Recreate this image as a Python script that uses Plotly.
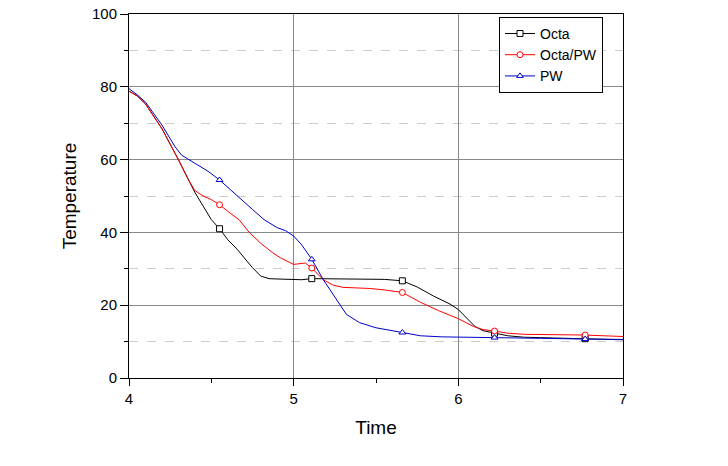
import plotly.graph_objects as go

# ---- data ----
octa_x = [4.00, 4.05, 4.10, 4.20, 4.30, 4.40, 4.50, 4.55, 4.60, 4.66, 4.70, 4.75, 4.80, 4.85, 4.90,
          5.00, 5.05, 5.11, 5.20, 5.40, 5.55, 5.66, 5.75, 5.85, 5.95, 6.00, 6.05, 6.10, 6.15, 6.22,
          6.30, 6.40, 6.60, 6.77, 7.00]
octa_y = [78.8, 77.5, 75.3, 68.5, 60.0, 51.0, 43.5, 41.0, 38.0, 35.2, 33.0, 30.3, 28.0, 27.3, 27.2,
          27.2, 27.0, 27.3, 27.3, 27.2, 27.1, 26.7, 25.0, 22.5, 20.3, 18.8, 16.5, 14.2, 13.0, 12.3,
          11.6, 11.2, 10.9, 10.8, 10.5]

opw_x = [4.00, 4.05, 4.10, 4.20, 4.30, 4.36, 4.40, 4.45, 4.50, 4.55, 4.60, 4.67, 4.73, 4.80, 4.87,
         4.92, 5.00, 5.07, 5.11, 5.18, 5.24, 5.30, 5.46, 5.55, 5.66, 5.77, 5.88, 6.00, 6.09, 6.15,
         6.22, 6.30, 6.40, 6.60, 6.77, 7.00]
opw_y = [78.8, 77.5, 75.3, 68.5, 60.0, 54.5, 51.5, 50.0, 49.0, 47.6, 45.8, 43.4, 40.0, 37.0, 34.5,
         33.0, 31.2, 31.6, 30.2, 27.0, 25.5, 24.9, 24.6, 24.2, 23.5, 20.8, 18.5, 16.3, 14.2, 13.3,
         12.9, 12.3, 12.0, 11.9, 11.8, 11.4]

pw_x = [4.00, 4.05, 4.10, 4.20, 4.28, 4.32, 4.40, 4.48, 4.55, 4.62, 4.68, 4.75, 4.82, 4.90, 4.95,
        5.00, 5.05, 5.11, 5.18, 5.26, 5.32, 5.40, 5.50, 5.66, 5.77, 5.90, 6.00, 6.22, 6.50, 6.77, 7.00]
pw_y = [79.5, 77.8, 75.8, 69.5, 63.5, 61.2, 59.0, 56.8, 54.4, 51.5, 49.2, 46.3, 43.5, 41.3, 40.5,
        39.0, 36.5, 32.6, 27.0, 21.4, 17.5, 15.2, 13.8, 12.5, 11.6, 11.3, 11.2, 11.1, 10.9, 10.7, 10.6]

marker_x = [4.55, 5.11, 5.66, 6.22, 6.77]

series = [
    ("Octa", octa_x, octa_y, "#000000", "square"),
    ("Octa/PW", opw_x, opw_y, "#ff0000", "circle"),
    ("PW", pw_x, pw_y, "#0000cc", "triangle-up"),
]

fig = go.Figure()
for name, xs, ys, col, sym in series:
    fig.add_trace(go.Scatter(x=xs, y=ys, mode="lines", line=dict(color=col, width=1),
                             showlegend=False, hoverinfo="skip"))
    mx = [x for x in xs if x in marker_x]
    my = [ys[xs.index(x)] for x in mx]
    fig.add_trace(go.Scatter(x=mx, y=my, mode="markers",
                             marker=dict(symbol=sym, size=6, color="white",
                                         line=dict(color=col, width=1)),
                             showlegend=False))
    fig.add_trace(go.Scatter(x=[None], y=[None], mode="lines+markers", name=name,
                             line=dict(color=col, width=1),
                             marker=dict(symbol=sym, size=6, color="white",
                                         line=dict(color=col, width=1))))

font = "Arial, Liberation Sans, sans-serif"
fig.update_layout(
    width=728, height=466,
    margin=dict(l=129, r=105, t=14, b=88),
    paper_bgcolor="white", plot_bgcolor="white",
    font=dict(family=font, color="black", size=15),
    legend=dict(x=0.749, y=0.992, xanchor="left", yanchor="top",
                bordercolor="black", borderwidth=1, bgcolor="white",
                font=dict(size=14), tracegroupgap=0, itemwidth=30),
    xaxis=dict(range=[4, 7], tickvals=[4, 5, 6, 7], showline=True, linecolor="black",
               linewidth=1, mirror=True, ticks="outside", ticklen=7, tickcolor="black",
               showgrid=True, gridcolor="#888888", gridwidth=1, zeroline=False,
               automargin=False,
               minor=dict(tickvals=[4.5, 5.5, 6.5], ticks="outside", ticklen=4,
                          tickcolor="black", showgrid=False),
               title=dict(text="Time", font=dict(size=19), standoff=14)),
    yaxis=dict(range=[0, 100], tickvals=[0, 20, 40, 60, 80, 100], showline=True,
               linecolor="black", linewidth=1, mirror=True, ticks="outside", ticklen=8,
               tickcolor="black", showgrid=True, gridcolor="#888888", gridwidth=1,
               zeroline=False, automargin=False,
               minor=dict(tickvals=[10, 30, 50, 70, 90], ticks="outside", ticklen=4,
                          tickcolor="black", showgrid=True, gridcolor="#cccccc",
                          griddash="dash", gridwidth=1),
               title=dict(text="Temperature", font=dict(size=19), standoff=10)),
)

fig.write_html("out.html")
